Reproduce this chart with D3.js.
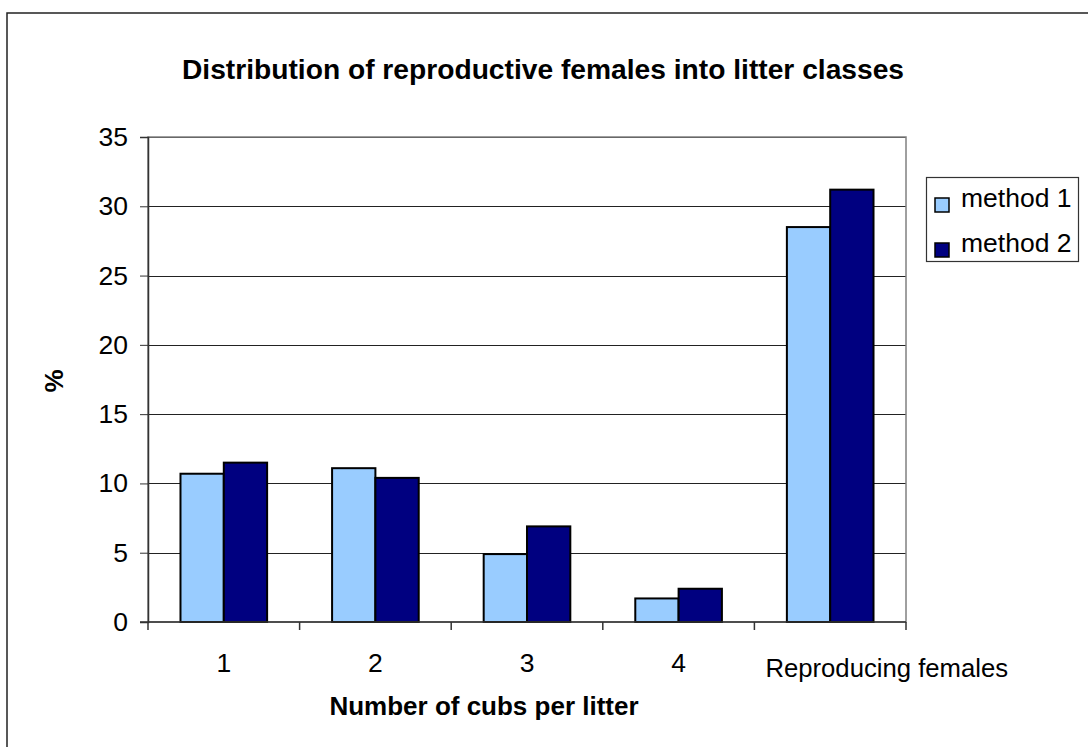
<!DOCTYPE html>
<html>
<head>
<meta charset="utf-8">
<script src="https://cdn.jsdelivr.net/npm/d3@7"></script>
<style>
  html, body { margin: 0; padding: 0; background: #fff; }
  svg { display: block; font-family: "Liberation Sans", Arial, sans-serif; }
</style>
</head>
<body>
<svg id="chart" width="1088" height="747"></svg>
<script>
// Litter class categories and the share of reproductive females (%) per method
const categories = ["1", "2", "3", "4", "Reproducing females"];
const seriesNames = ["method 1", "method 2"];
const method1 = [10.7, 11.1, 4.9, 1.7, 28.5];
const method2 = [11.5, 10.4, 6.9, 2.4, 31.2];
const yTicks = [0, 5, 10, 15, 20, 25, 30, 35];
const colors = ["#99CCFF", "#000080"];

const svg = d3.select("#chart");

// Chart area frame (extends past the right and bottom edges)
svg.append("rect")
  .attr("x", 7).attr("y", 13)
  .attr("width", 1200).attr("height", 800)
  .attr("fill", "#fff").attr("stroke", "#222").attr("stroke-width", 1.5);

const plot = { left: 148, right: 906, top: 137, bottom: 622 };

const y = d3.scaleLinear().domain([0, 35]).range([plot.bottom, plot.top]);

// gap width 150% of a bar: 2 bars + 1.5 bars gap per category
const x = d3.scaleBand()
  .domain(categories)
  .range([plot.left, plot.right])
  .paddingInner(1.5 / 3.5)
  .paddingOuter(0.75 / 3.5);

const xs = d3.scaleBand().domain(seriesNames).range([0, x.bandwidth()]);

// Gridlines
svg.append("g")
  .selectAll("line")
  .data(yTicks.filter(d => d > 0))
  .join("line")
  .attr("x1", plot.left).attr("x2", plot.right)
  .attr("y1", d => Math.round(y(d)) + 0.5).attr("y2", d => Math.round(y(d)) + 0.5)
  .attr("stroke", "#222").attr("stroke-width", 1);

// Plot area border
svg.append("rect")
  .attr("x", plot.left).attr("y", plot.top)
  .attr("width", plot.right - plot.left).attr("height", plot.bottom - plot.top)
  .attr("fill", "none").attr("stroke", "#808080").attr("stroke-width", 1.5);

// Bars
const rows = categories.map((c, i) => ({ cat: c, vals: [method1[i], method2[i]] }));
const groups = svg.append("g").selectAll("g")
  .data(rows)
  .join("g")
  .attr("transform", d => `translate(${x(d.cat)},0)`);

groups.selectAll("rect")
  .data(d => d.vals.map((v, j) => ({ name: seriesNames[j], v, j })))
  .join("rect")
  .attr("x", d => xs(d.name))
  .attr("y", d => y(d.v))
  .attr("width", xs.bandwidth())
  .attr("height", d => y(0) - y(d.v))
  .attr("fill", d => colors[d.j])
  .attr("stroke", "#000").attr("stroke-width", 2);

// Y axis
const yAxis = svg.append("g")
  .attr("transform", `translate(${plot.left},0)`)
  .call(d3.axisLeft(y).tickValues(yTicks).tickSize(8).tickPadding(12));
yAxis.select(".domain").attr("stroke", "#333").attr("stroke-width", 1.5);
yAxis.selectAll(".tick line").attr("stroke", "#333");
yAxis.selectAll(".tick text")
  .attr("font-size", 26.5).attr("fill", "#000")
  .attr("font-family", "Liberation Sans, Arial, sans-serif");

// X axis baseline and category boundary ticks
const step = x.step();
const boundaries = d3.range(categories.length + 1).map(i => plot.left + i * step);
svg.append("line")
  .attr("x1", plot.left - 8).attr("x2", plot.right)
  .attr("y1", y(0)).attr("y2", y(0))
  .attr("stroke", "#333").attr("stroke-width", 1.5);
svg.append("g").selectAll("line")
  .data(boundaries)
  .join("line")
  .attr("x1", d => d).attr("x2", d => d)
  .attr("y1", y(0)).attr("y2", y(0) + 8)
  .attr("stroke", "#333").attr("stroke-width", 1.5);

// Category labels
svg.append("g").selectAll("text")
  .data(categories)
  .join("text")
  .attr("x", (d, i) => i < 4 ? x(d) + x.bandwidth() / 2 : x(d) - step * 0.75 / 3.5 + 11)
  .attr("y", (d, i) => i < 4 ? 672 : 677)
  .attr("text-anchor", (d, i) => i < 4 ? "middle" : "start")
  .attr("font-size", (d, i) => i < 4 ? 26.5 : 25.7)
  .text(d => d);

// Titles
svg.append("text")
  .attr("x", 543).attr("y", 79)
  .attr("text-anchor", "middle")
  .attr("font-size", 28.2).attr("font-weight", "bold")
  .text("Distribution of reproductive females into litter classes");

svg.append("text")
  .attr("x", 484).attr("y", 715)
  .attr("text-anchor", "middle")
  .attr("font-size", 26).attr("font-weight", "bold")
  .text("Number of cubs per litter");

svg.append("text")
  .attr("transform", "translate(63,381) rotate(-90)")
  .attr("text-anchor", "middle")
  .attr("font-size", 26).attr("font-weight", "bold")
  .text("%");

// Legend
const legend = svg.append("g");
legend.append("rect")
  .attr("x", 926.5).attr("y", 177.5).attr("width", 152).attr("height", 84)
  .attr("fill", "#fff").attr("stroke", "#333").attr("stroke-width", 1.2);
const items = legend.selectAll("g")
  .data(seriesNames)
  .join("g")
  .attr("transform", (d, i) => `translate(0,${i * 45})`);
items.append("rect")
  .attr("x", 935).attr("y", 198).attr("width", 14).attr("height", 14)
  .attr("fill", (d, i) => colors[i]).attr("stroke", "#000").attr("stroke-width", 1.5);
items.append("text")
  .attr("x", 961).attr("y", 207)
  .attr("font-size", 26.5)
  .text(d => d);
</script>
</body>
</html>
